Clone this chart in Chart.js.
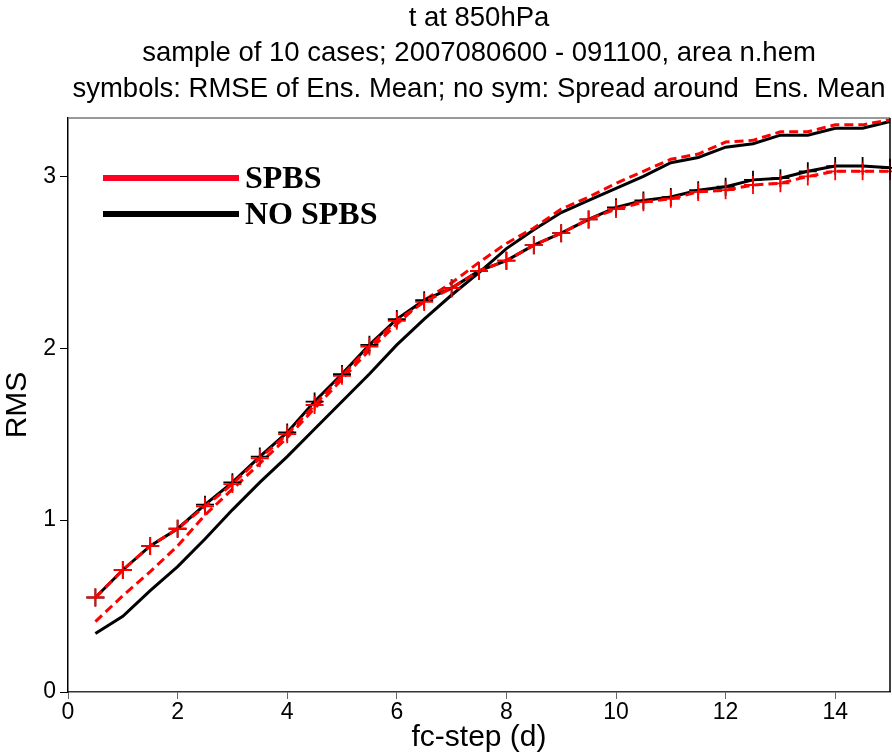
<!DOCTYPE html>
<html>
<head>
<meta charset="utf-8">
<script src="https://cdn.jsdelivr.net/npm/chart.js@4"></script>
<style>
    html, body { margin: 0; padding: 0; background: #fff; }
    #wrap { width: 892px; height: 756px; }
</style>
</head>
<body>
<div id="wrap"><canvas id="rmsChart" width="892" height="756"></canvas></div>
<script>
// ------------------------------------------
// data
// ------------------------------------------
const steps = [0.5, 1, 1.5, 2, 2.5, 3, 3.5, 4, 4.5, 5, 5.5, 6, 6.5, 7, 7.5,
               8, 8.5, 9, 9.5, 10, 10.5, 11, 11.5, 12, 12.5, 13, 13.5, 14, 14.5, 15];

const rmseNoSpbs = [0.55, 0.71, 0.85, 0.95, 1.09, 1.22, 1.37, 1.51, 1.69, 1.85, 2.02, 2.17, 2.28, 2.35, 2.45,
                    2.51, 2.60, 2.67, 2.75, 2.82, 2.86, 2.88, 2.92, 2.94, 2.98, 2.99, 3.03, 3.06, 3.06, 3.05];
const rmseSpbs   = [0.55, 0.71, 0.85, 0.95, 1.08, 1.21, 1.36, 1.50, 1.67, 1.84, 2.01, 2.16, 2.27, 2.35, 2.45,
                    2.51, 2.60, 2.67, 2.75, 2.81, 2.85, 2.87, 2.91, 2.92, 2.95, 2.96, 3.00, 3.03, 3.03, 3.03];
const spreadNoSpbs = [0.34, 0.44, 0.59, 0.73, 0.89, 1.06, 1.22, 1.37, 1.53, 1.69, 1.85, 2.02, 2.17, 2.31, 2.44,
                      2.58, 2.69, 2.79, 2.86, 2.93, 3.00, 3.08, 3.11, 3.17, 3.19, 3.24, 3.24, 3.28, 3.28, 3.32];
const spreadSpbs   = [0.41, 0.56, 0.70, 0.85, 1.03, 1.18, 1.33, 1.48, 1.65, 1.82, 1.99, 2.14, 2.28, 2.38, 2.50,
                      2.61, 2.70, 2.81, 2.88, 2.96, 3.03, 3.10, 3.13, 3.20, 3.21, 3.26, 3.26, 3.30, 3.30, 3.33];

const xTicks = [0, 2, 4, 6, 8, 10, 12, 14];
const yTicks = [0, 1, 2, 3];

const titleLines = [
    "t at 850hPa",
    "sample of 10 cases; 2007080600 - 091100, area n.hem",
    "symbols: RMSE of Ens. Mean; no sym: Spread around  Ens. Mean"
];
const legendItems = [
    { label: "SPBS", color: "#ff0022" },
    { label: "NO SPBS", color: "#000000" }
];

const RED = "#ff0000";
const BLACK = "#000000";

function pts(vals) {
    return steps.map((x, i) => ({ x: x, y: vals[i] }));
}

// -------------------------------------------------
//  titles, frame, legend
// -------------------------------------------------
const decorPlugin = {
    id: "decor",
    afterDraw(chart) {
        const ctx = chart.ctx;
        const area = chart.chartArea;
        ctx.save();

        // titles
        ctx.fillStyle = "#000";
        ctx.font = "27.5px 'Liberation Sans', Arial, sans-serif";
        ctx.textAlign = "center";
        ctx.textBaseline = "middle";
        const cx = (area.left + area.right) / 2;
        ctx.fillText(titleLines[0], cx, 18);
        ctx.fillText(titleLines[1], cx, 53);
        ctx.fillText(titleLines[2], cx, 89);

        // top / right frame
        ctx.strokeStyle = "#777";
        ctx.lineWidth = 1.5;
        ctx.beginPath();
        ctx.moveTo(area.left, area.top);
        ctx.lineTo(area.right, area.top);
        ctx.stroke();
        ctx.strokeStyle = "#000";
        ctx.beginPath();
        ctx.moveTo(area.right, area.top);
        ctx.lineTo(area.right, area.bottom);
        ctx.stroke();

        // legend
        ctx.textAlign = "left";
        ctx.font = "bold 32px 'Liberation Serif', 'Times New Roman', serif";
        legendItems.forEach((it, i) => {
            const y = 178 + i * 36;
            ctx.strokeStyle = it.color;
            ctx.lineWidth = 6;
            ctx.beginPath();
            ctx.moveTo(103, y);
            ctx.lineTo(239, y);
            ctx.stroke();
            ctx.fillStyle = "#000";
            ctx.fillText(it.label, 245, y + 2);
        });
        ctx.restore();
    }
};

const tickFont = { family: "'Liberation Sans', Arial, sans-serif", size: 23 };

// index 0 is drawn on top
new Chart(document.getElementById("rmsChart"), {
    type: "line",
    data: {
        datasets: [
            {
                label: "SPBS RMSE",
                data: pts(rmseSpbs),
                borderColor: RED,
                borderWidth: 3,
                borderDash: [9, 5],
                pointStyle: "cross",
                pointRadius: 9,
                pointBorderWidth: 1.8,
                pointBorderColor: RED
            },
            {
                label: "NO SPBS RMSE",
                data: pts(rmseNoSpbs),
                borderColor: BLACK,
                borderWidth: 3,
                pointStyle: "cross",
                pointRadius: 9,
                pointBorderWidth: 1.8,
                pointBorderColor: BLACK
            },
            {
                label: "SPBS spread",
                data: pts(spreadSpbs),
                borderColor: RED,
                borderWidth: 3,
                borderDash: [9, 5],
                pointRadius: 0
            },
            {
                label: "NO SPBS spread",
                data: pts(spreadNoSpbs),
                borderColor: BLACK,
                borderWidth: 3,
                pointRadius: 0
            }
        ]
    },
    options: {
        responsive: false,
        animation: false,
        clip: false,
        layout: { autoPadding: false, padding: { top: 118, right: 2, left: 0, bottom: 0 } },
        plugins: {
            legend: { display: false },
            tooltip: { enabled: false }
        },
        scales: {
            x: {
                type: "linear",
                min: 0,
                max: 15,
                afterBuildTicks: s => { s.ticks = xTicks.map(v => ({ value: v })); },
                afterFit: s => { s.height = 64; },
                grid: { drawOnChartArea: false, drawTicks: true, tickLength: 7, color: "#666" },
                border: { display: true, color: "#333", width: 1.5 },
                ticks: { font: tickFont, color: "#000", padding: 0, maxRotation: 0 },
                title: {
                    display: true,
                    text: "fc-step (d)",
                    font: { family: "'Liberation Sans', Arial, sans-serif", size: 30 },
                    color: "#000",
                    padding: { top: -4, bottom: 0 }
                }
            },
            y: {
                type: "linear",
                min: 0,
                max: 3.34,
                afterBuildTicks: s => { s.ticks = yTicks.map(v => ({ value: v })); },
                afterFit: s => { s.width = 68; },
                grid: { drawOnChartArea: false, drawTicks: true, tickLength: 8, color: "#000" },
                border: { display: true, color: "#000", width: 1.5 },
                ticks: { font: tickFont, color: "#000", padding: 4 },
                title: {
                    display: true,
                    text: "RMS",
                    font: { family: "'Liberation Sans', Arial, sans-serif", size: 30 },
                    color: "#000",
                    padding: { top: 0, bottom: 0 }
                }
            }
        }
    },
    plugins: [decorPlugin]
});
</script>
</body>
</html>
